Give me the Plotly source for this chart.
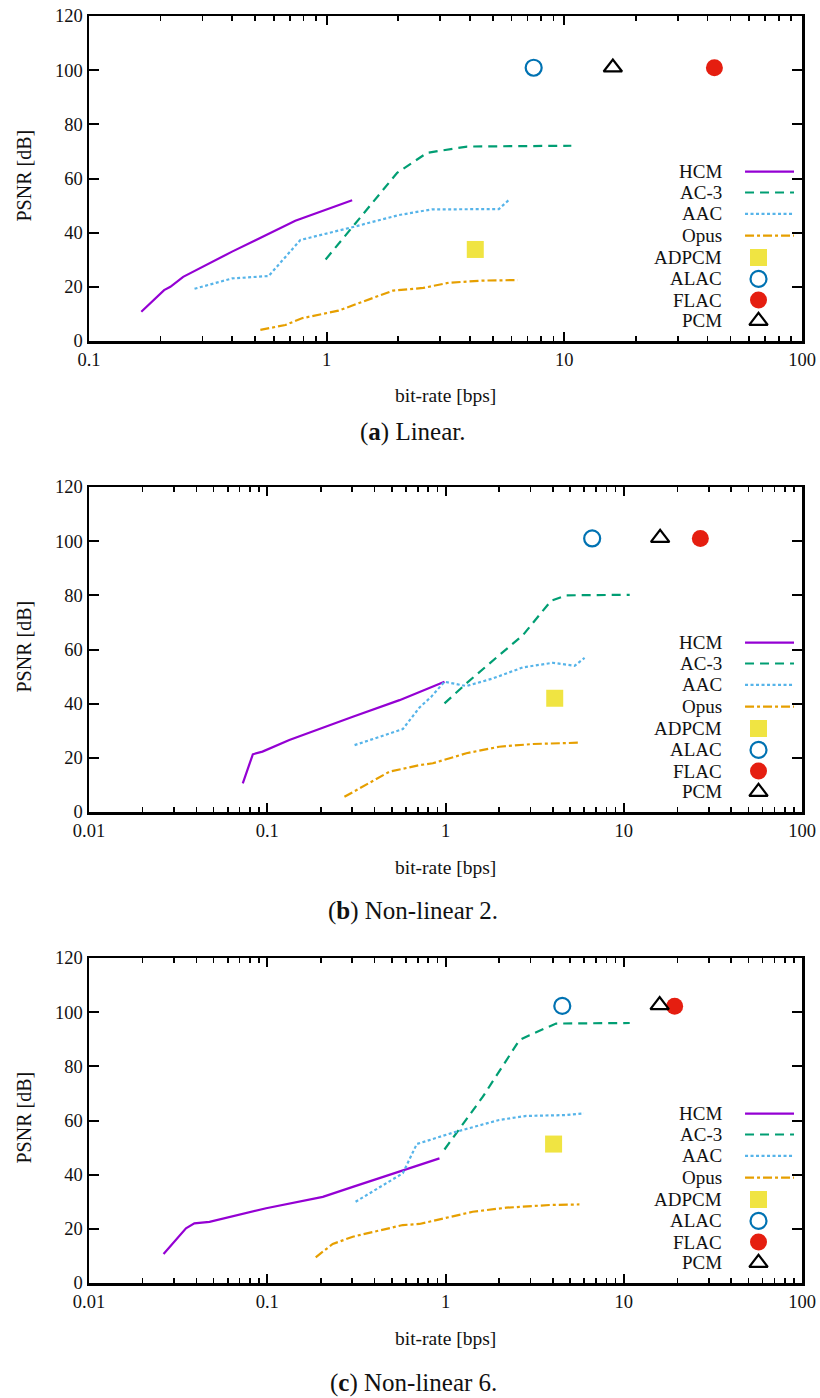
import plotly.graph_objects as go

# ---------------- data ----------------
# Panel (a) Linear
a_hcm_x = [0.166, 0.207, 0.22, 0.249, 0.40, 0.738, 1.28]
a_hcm_y = [10.8, 18.8, 20.0, 23.7, 33.0, 44.4, 52.0]
a_ac3_x = [0.99, 1.98, 2.65, 3.9, 10.7]
a_ac3_y = [30.1, 62.1, 69.5, 71.8, 72.1]
a_aac_x = [0.278, 0.40, 0.57, 0.775, 1.28, 2.01, 2.77, 5.3, 5.83]
a_aac_y = [19.3, 23.1, 24.0, 37.3, 42.0, 46.5, 48.6, 48.7, 52.0]
a_opus_x = [0.526, 0.67, 0.787, 1.0, 1.12, 1.9, 2.55, 3.26, 4.5, 6.36]
a_opus_y = [4.1, 5.9, 8.4, 10.4, 11.2, 18.6, 19.6, 21.5, 22.3, 22.5]
a_pts = {"ADPCM": (4.22, 33.8), "ALAC": (7.43, 100.9), "FLAC": (42.8, 100.9), "PCM": (16.0, 101.0)}

# Panel (b) Non-linear 2
b_hcm_x = [0.0729, 0.083, 0.094, 0.133, 0.302, 0.552, 0.987]
b_hcm_y = [10.6, 21.3, 22.3, 26.6, 35.2, 41.3, 48.1]
b_ac3_x = [0.987, 1.31, 2.0, 2.72, 3.91, 4.75, 10.8]
b_ac3_y = [40.1, 47.5, 57.9, 65.3, 78.0, 80.0, 80.2]
b_aac_x = [0.309, 0.576, 0.715, 0.83, 0.987, 1.31, 1.84, 2.72, 4.0, 5.3, 6.03]
b_aac_y = [24.7, 30.6, 38.6, 42.5, 48.1, 46.5, 49.3, 53.4, 55.1, 54.0, 56.9]
b_opus_x = [0.271, 0.485, 0.715, 0.849, 1.31, 2.0, 3.09, 5.64]
b_opus_y = [5.6, 14.9, 17.3, 18.0, 21.7, 24.1, 25.1, 25.6]
b_pts = {"ADPCM": (4.1, 42.0), "ALAC": (6.65, 101.0), "FLAC": (26.9, 101.0), "PCM": (16.0, 101.2)}

# Panel (c) Non-linear 6
c_hcm_x = [0.0262, 0.035, 0.039, 0.0474, 0.0986, 0.205, 0.302, 0.576, 0.925]
c_hcm_y = [10.7, 20.2, 22.0, 22.6, 27.6, 31.8, 35.5, 41.4, 46.0]
c_ac3_x = [0.987, 1.62, 2.6, 2.96, 4.17, 10.8]
c_ac3_y = [49.3, 68.8, 89.7, 91.5, 95.8, 96.0]
c_aac_x = [0.313, 0.576, 0.69, 1.1, 2.0, 2.84, 4.75, 5.98]
c_aac_y = [30.0, 40.5, 51.3, 55.5, 60.2, 61.7, 62.0, 62.6]
c_opus_x = [0.187, 0.233, 0.302, 0.576, 0.715, 1.42, 2.19, 3.83, 5.64]
c_opus_y = [9.5, 14.4, 17.1, 21.4, 21.8, 26.3, 27.8, 28.8, 29.0]
c_pts = {"ADPCM": (4.04, 51.3), "ALAC": (4.52, 102.3), "FLAC": (19.3, 102.2), "PCM": (15.9, 102.6)}

captions = ["(<b>a</b>) Linear.", "(<b>b</b>) Non-linear 2.", "(<b>c</b>) Non-linear 6."]
x_tickvals = [[0.1, 1, 10, 100], [0.01, 0.1, 1, 10, 100], [0.01, 0.1, 1, 10, 100]]
x_ticktext = [["0.1", "1", "10", "100"], ["0.01", "0.1", "1", "10", "100"], ["0.01", "0.1", "1", "10", "100"]]
x_ranges = [[-1, 2], [-2, 2], [-2, 2]]
x_decades = [[0.1, 1, 10], [0.01, 0.1, 1, 10], [0.01, 0.1, 1, 10]]
y_tickvals = [0, 20, 40, 60, 80, 100, 120]
legend_names = ["HCM", "AC-3", "AAC", "Opus", "ADPCM", "ALAC", "FLAC", "PCM"]

# ---------------- styles ----------------
W, H = 820, 1398
SERIF = "Liberation Serif"
TXT = "#111111"


def fx(px):
    return px / W


def fy(py):
    return 1 - py / H


line_styles = {
    "HCM": dict(color="#9400D3", width=2.2, dash="solid"),
    "AC-3": dict(color="#009E73", width=2.2, dash="9px,6px"),
    "AAC": dict(color="#56B4E9", width=2.2, dash="3px,2.5px"),
    "Opus": dict(color="#E69F00", width=2.2, dash="9px,3px,3px,3px"),
}
marker_styles = {
    "ADPCM": dict(symbol="square", size=17, color="#F0E442", line=dict(width=0)),
    "ALAC": dict(symbol="circle-open", size=16, color="#0072B2", line=dict(width=2.2, color="#0072B2")),
    "FLAC": dict(symbol="circle", size=17, color="#E51E10", line=dict(width=0)),
    "PCM": dict(symbol="triangle-up-open", size=16, color="black", line=dict(width=2.2, color="black")),
}

# panel boxes in page pixels (left, right, top, bottom)
boxes = [(89, 802, 16, 341), (89, 802, 487, 812), (89, 802, 958, 1283)]
caption_y = [432, 911, 1383]

fig = go.Figure()

panels = [
    (a_hcm_x, a_hcm_y, a_ac3_x, a_ac3_y, a_aac_x, a_aac_y, a_opus_x, a_opus_y, a_pts),
    (b_hcm_x, b_hcm_y, b_ac3_x, b_ac3_y, b_aac_x, b_aac_y, b_opus_x, b_opus_y, b_pts),
    (c_hcm_x, c_hcm_y, c_ac3_x, c_ac3_y, c_aac_x, c_aac_y, c_opus_x, c_opus_y, c_pts),
]

# legend geometry (axis-domain fractions)
leg_text_x = 0.8906
leg_line_x0, leg_line_x1 = 0.9201, 0.9888
leg_mark_x = 0.939
leg_rows = [0.521, 0.457, 0.391, 0.324, 0.257, 0.191, 0.126, 0.062]

layout_axes = {}
annotations = []
for i, (hx, hy, ax_, ay_, aax, aay, ox, oy, pts) in enumerate(panels):
    n = i + 1
    xa = "x" if n == 1 else f"x{n}"
    ya = "y" if n == 1 else f"y{n}"
    on = n + 3
    oxa, oya = f"x{on}", f"y{on}"
    series = [("HCM", hx, hy), ("AC-3", ax_, ay_), ("AAC", aax, aay), ("Opus", ox, oy)]
    for name, xs, ys in series:
        fig.add_trace(go.Scatter(x=xs, y=ys, mode="lines", name=name, line=line_styles[name],
                                 xaxis=xa, yaxis=ya, showlegend=False))
    for name in ["ADPCM", "ALAC", "FLAC", "PCM"]:
        px_, py_ = pts[name]
        fig.add_trace(go.Scatter(x=[px_], y=[py_], mode="markers", name=name,
                                 marker=marker_styles[name], xaxis=xa, yaxis=ya, showlegend=False))
    # legend samples on overlay axes
    for k, name in enumerate(legend_names):
        yy = leg_rows[k]
        if name in line_styles:
            fig.add_trace(go.Scatter(x=[leg_line_x0, leg_line_x1], y=[yy, yy], mode="lines",
                                     line=line_styles[name], xaxis=oxa, yaxis=oya,
                                     showlegend=False, hoverinfo="skip"))
        else:
            fig.add_trace(go.Scatter(x=[leg_mark_x], y=[yy], mode="markers",
                                     marker=marker_styles[name], xaxis=oxa, yaxis=oya,
                                     showlegend=False, hoverinfo="skip"))
        annotations.append(dict(text=name, xref=f"{xa} domain", yref=f"{ya} domain",
                                x=leg_text_x, y=yy, xanchor="right", yanchor="middle",
                                showarrow=False, font=dict(family=SERIF, size=19, color=TXT)))

    l, r, t, b = boxes[i]
    xdom = [fx(l), fx(r)]
    ydom = [fy(b), fy(t)]
    xkey = "xaxis" if n == 1 else f"xaxis{n}"
    ykey = "yaxis" if n == 1 else f"yaxis{n}"
    minor_vals = [k * d for d in x_decades[i] for k in range(2, 10)]
    layout_axes[xkey] = dict(
        type="log", range=x_ranges[i], domain=xdom, anchor=ya, automargin=False,
        tickmode="array", tickvals=x_tickvals[i], ticktext=x_ticktext[i],
        ticks="inside", ticklen=9, tickwidth=2, tickcolor="black",
        showline=True, linewidth=2.5, linecolor="black", mirror="ticks",
        showgrid=False, zeroline=False, ticklabeloverflow="allow",
        tickfont=dict(family=SERIF, size=18.5, color=TXT),
        minor=dict(tickmode="array", tickvals=minor_vals, ticks="inside", ticklen=5,
                   tickwidth=1.6, tickcolor="black", showgrid=False),
    )
    layout_axes[ykey] = dict(
        range=[0, 120], domain=ydom, anchor=xa, automargin=False,
        tickmode="array", tickvals=y_tickvals, ticks="inside", ticklen=10, tickwidth=2,
        tickcolor="black", ticklabeloverflow="allow",
        showline=True, linewidth=2.5, linecolor="black", mirror="ticks",
        showgrid=False, zeroline=False,
        tickfont=dict(family=SERIF, size=18.5, color=TXT),
    )
    layout_axes[f"xaxis{on}"] = dict(range=[0, 1], overlaying=xa, anchor=oya, visible=False,
                                     showgrid=False, zeroline=False, automargin=False)
    layout_axes[f"yaxis{on}"] = dict(range=[0, 1], overlaying=ya, anchor=oxa, visible=False,
                                     showgrid=False, zeroline=False, automargin=False)

    # axis titles
    annotations.append(dict(text="PSNR [dB]", xref="paper", yref="paper",
                            x=fx(23), y=fy((t + b) / 2 - 3), textangle=-90,
                            xanchor="center", yanchor="middle", showarrow=False,
                            font=dict(family=SERIF, size=20, color=TXT)))
    annotations.append(dict(text="bit-rate [bps]", xref="paper", yref="paper",
                            x=fx(445), y=fy(b + 55),
                            xanchor="center", yanchor="middle", showarrow=False,
                            font=dict(family=SERIF, size=19.5, color=TXT)))
    annotations.append(dict(text=captions[i], xref="paper", yref="paper",
                            x=fx(413), y=fy(caption_y[i]),
                            xanchor="center", yanchor="middle", showarrow=False,
                            font=dict(family=SERIF, size=25, color=TXT)))

fig.update_layout(
    template="none",
    width=W, height=H,
    margin=dict(l=0, r=0, t=0, b=0, autoexpand=False),
    paper_bgcolor="white", plot_bgcolor="white",
    showlegend=False,
    annotations=annotations,
    **layout_axes,
)

# the page's default body margin would shift the 820x1398 figure; remove it
fig.write_html("out.html",
               config={"displayModeBar": False, "staticPlot": True},
               post_script="document.body.style.margin='0px';document.body.style.overflow='hidden';")
